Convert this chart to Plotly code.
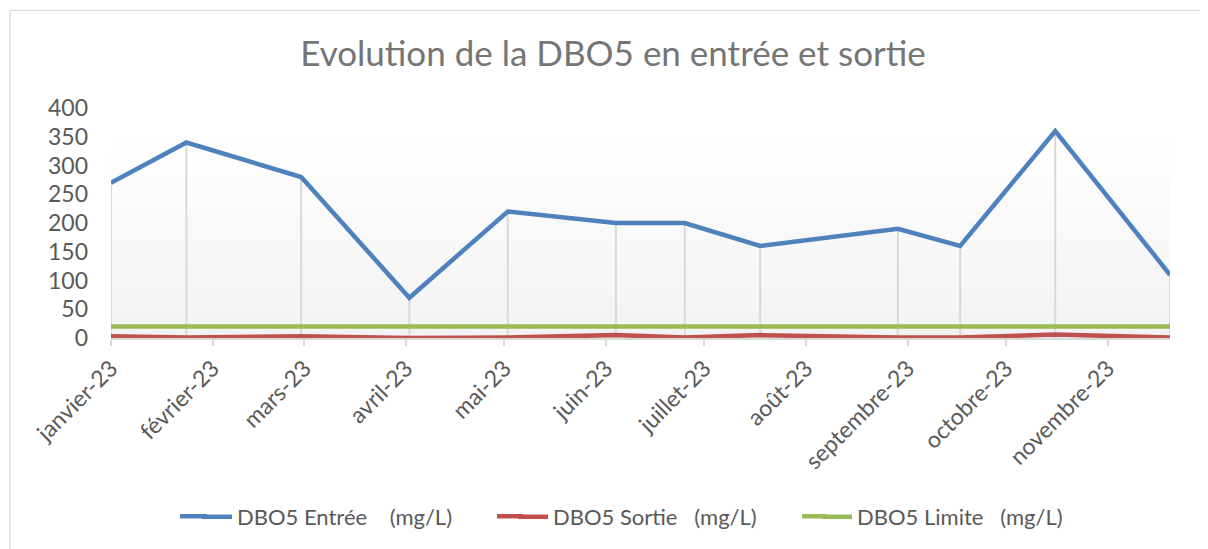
import plotly.graph_objects as go

# ---- data ----
dates = ["2023-01-01", "2023-01-24", "2023-02-28", "2023-04-02", "2023-05-02", "2023-06-04",
         "2023-06-25", "2023-07-18", "2023-08-29", "2023-09-17", "2023-10-16", "2023-11-20"]
dbo5_entree = [270, 340, 280, 70, 220, 200, 200, 160, 190, 160, 360, 110]
dbo5_sortie = [3, 1, 3, 0, 1, 5, 1, 5, 1, 1, 6, 1]
dbo5_limite = [20, 20, 20, 20, 20, 20, 20, 20, 20, 20, 20, 20]
month_ticks = ["2023-01-01", "2023-02-01", "2023-03-01", "2023-04-01", "2023-05-01", "2023-06-01",
               "2023-07-01", "2023-08-01", "2023-09-01", "2023-10-01", "2023-11-01"]
month_labels = ["janvier-23", "février-23", "mars-23", "avril-23", "mai-23", "juin-23",
                "juillet-23", "août-23", "septembre-23", "octobre-23", "novembre-23"]
series_names = ["DBO5 Entrée\u00a0\u00a0\u00a0\u00a0(mg/L)",
                "DBO5 Sortie\u00a0\u00a0\u00a0(mg/L)",
                "DBO5 Limite\u00a0\u00a0\u00a0(mg/L)"]

FONT = "Lato"
OFF = 8  # page body margin of the browser
W, H = 1208 - OFF, 549 - OFF
# plot area in reference (window) pixels
PL, PR, PT, PB = 111, 1170, 108, 339
PW, PH = PR - PL, PB - PT


def px_x(x):
    return (x - PL) / PW


def px_y(y):
    return (PB - y) / PH


fig = go.Figure()

# drop lines from each Entrée point down to the axis
dx, dy = [], []
for d, v in zip(dates, dbo5_entree):
    dx += [d, d, None]
    dy += [0, v, None]
fig.add_trace(go.Scatter(x=dx, y=dy, mode="lines", line=dict(color="#d9d9d9", width=2),
                         showlegend=False, hoverinfo="skip"))

colors = ["#4f81bd", "#c0504d", "#9bbb59"]
legends = ["legend", "legend2", "legend3"]
for name, vals, c, lg in zip(series_names, [dbo5_entree, dbo5_sortie, dbo5_limite], colors, legends):
    fig.add_trace(go.Scatter(x=dates, y=vals, mode="lines", name=name, legend=lg,
                             line=dict(color=c, width=4.5)))

# gradient plot background
shapes = []
N = 60
for i in range(N):
    t = (i + 0.5) / N  # 0 bottom -> 1 top
    g = round(242 + (255 - 242) * min(1.0, t * 1.12))
    shapes.append(dict(type="rect", xref="x domain", yref="y domain",
                       x0=0, x1=1, y0=i / N, y1=(i + 1) / N,
                       fillcolor=f"rgb({g},{g},{g})", line=dict(width=0), layer="below"))
# chart border
shapes.append(dict(type="rect", xref="paper", yref="paper",
                   x0=px_x(10), x1=px_x(1230), y0=px_y(570), y1=px_y(10),
                   line=dict(color="#d9d9d9", width=1.3), fillcolor="rgba(0,0,0,0)"))

legend_text_starts = [237, 553, 857]
legend_line_starts = [178, 495, 800]
LEG_Y = 517
# longer legend keys, as in the original
for ls, ts, c in zip(legend_line_starts, legend_text_starts, colors):
    shapes.append(dict(type="line", xref="paper", yref="paper",
                       x0=px_x(ls + 2), x1=px_x(ts - 30), y0=px_y(LEG_Y + 1), y1=px_y(LEG_Y + 1),
                       line=dict(color=c, width=4.5)))

leg_common = dict(orientation="h", yanchor="middle", xanchor="left", y=px_y(LEG_Y),
                  font=dict(family=FONT, size=22, color="#595959"),
                  bgcolor="rgba(0,0,0,0)", borderwidth=0)

fig.update_layout(
    width=W, height=H,
    margin=dict(l=PL - OFF, r=W - (PR - OFF), t=PT - OFF, b=H - (PB - OFF)),
    paper_bgcolor="white", plot_bgcolor="white",
    font=dict(family=FONT, color="#595959", size=22),
    title=dict(text="Evolution de la DBO5 en entrée et sortie",
               font=dict(family=FONT, size=35, color="#757575"),
               x=(613 - OFF) / W, xanchor="center", xref="container",
               y=1 - (54 - OFF) / H, yanchor="middle", yref="container"),
    shapes=shapes,
    showlegend=True,
    legend=dict(leg_common, x=px_x(legend_text_starts[0] - 40)),
    legend2=dict(leg_common, x=px_x(legend_text_starts[1] - 40)),
    legend3=dict(leg_common, x=px_x(legend_text_starts[2] - 40)),
    xaxis=dict(type="date", range=[dates[0], dates[-1]],
               tickvals=month_ticks, ticktext=month_labels, tickangle=-45,
               ticks="outside", ticklen=6, tickwidth=2, tickcolor="#d9d9d9",
               showline=True, linecolor="#d9d9d9", linewidth=1.5,
               showgrid=False, zeroline=False,
               tickfont=dict(family=FONT, size=23, color="#595959")),
    yaxis=dict(range=[0, 400], dtick=50, tick0=0, showgrid=False, zeroline=False,
               showline=False, ticks="", ticklabelstandoff=22,
               tickfont=dict(family=FONT, size=23, color="#595959")),
)

fig.write_html("out.html")
